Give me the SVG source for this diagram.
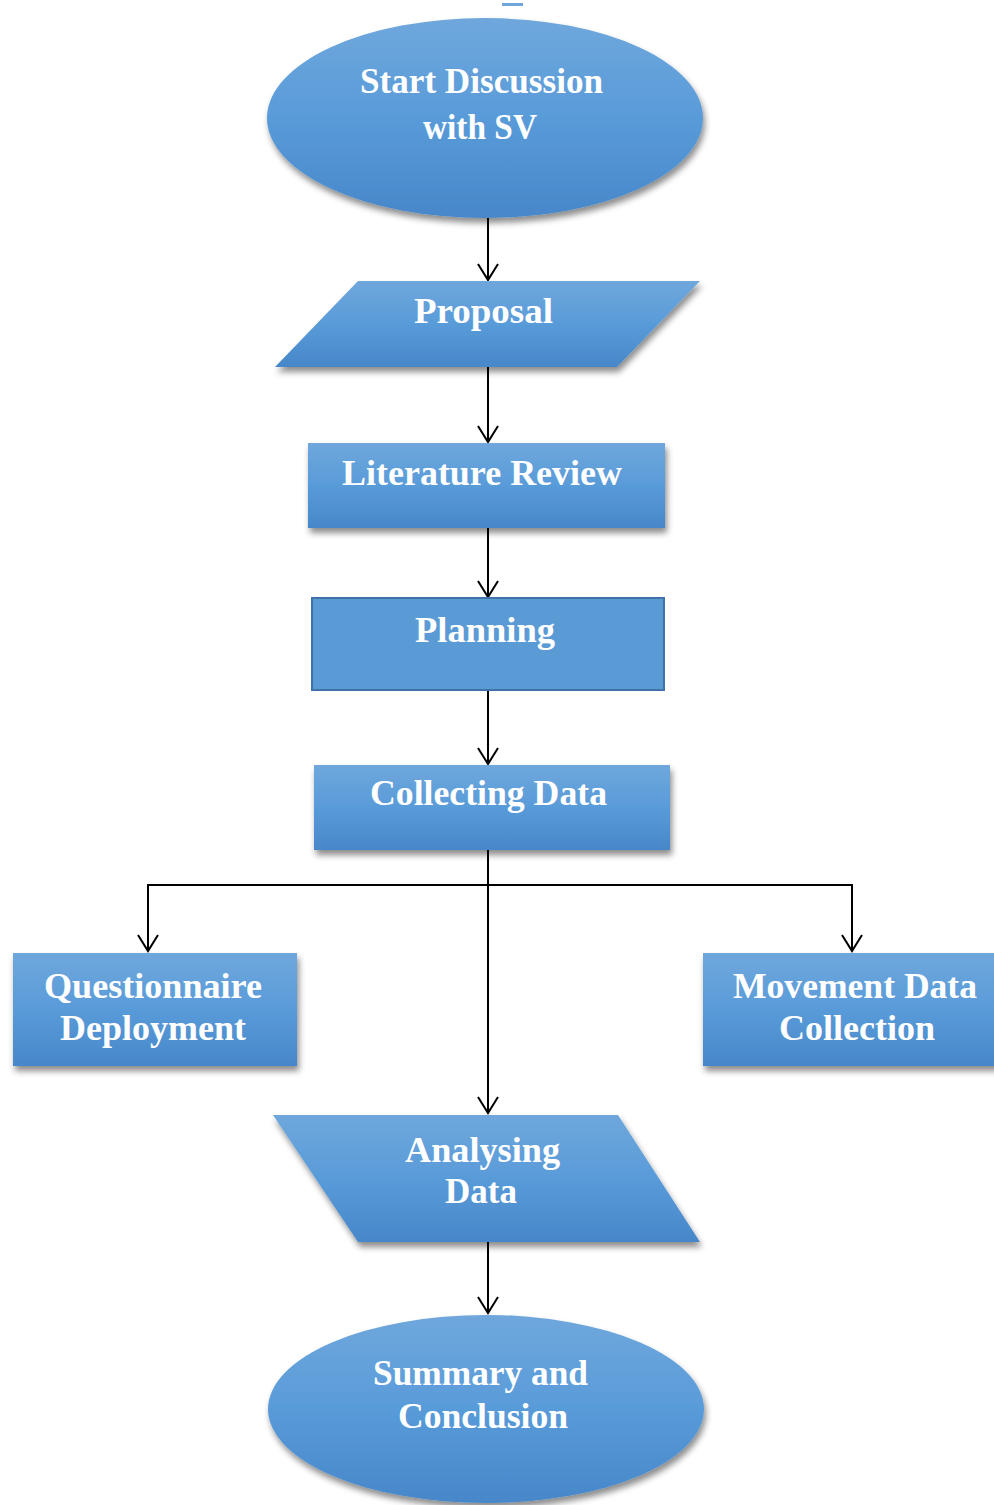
<svg xmlns="http://www.w3.org/2000/svg" width="994" height="1505" viewBox="0 0 994 1505">
<defs>
<linearGradient id="g" x1="0" y1="0" x2="0" y2="1">
<stop offset="0" stop-color="#6fa7dc"/>
<stop offset="0.5" stop-color="#599bd9"/>
<stop offset="1" stop-color="#4787c9"/>
</linearGradient>
<filter id="sh" x="-10%" y="-10%" width="125%" height="130%">
<feDropShadow dx="2" dy="5" stdDeviation="3" flood-color="#000" flood-opacity="0.45"/>
</filter>
<marker id="ah" markerWidth="24" markerHeight="24" refX="21" refY="12" orient="auto" markerUnits="userSpaceOnUse" viewBox="0 0 24 24">
<path d="M5 2 L21 12 L5 22" fill="none" stroke="#000" stroke-width="2"/>
</marker>
</defs>
<style>
.n{fill:url(#g);filter:url(#sh)}
.p{fill:#5b9bd5;stroke:#3f72a8;stroke-width:2}
.t{font-family:"Liberation Serif","Times New Roman",serif;font-weight:bold;font-size:36px;fill:#fff;text-anchor:start}
.c{fill:none;stroke:#000;stroke-width:2}
</style>
<rect x="502" y="3" width="21" height="3" fill="#6fa7dc"/>
<g id="connectors">
<line class="c" x1="488" y1="218" x2="488" y2="280" marker-end="url(#ah)"/>
<line class="c" x1="488" y1="367" x2="488" y2="442" marker-end="url(#ah)"/>
<line class="c" x1="488" y1="528" x2="488" y2="597" marker-end="url(#ah)"/>
<line class="c" x1="488" y1="690" x2="488" y2="764" marker-end="url(#ah)"/>
<line class="c" x1="488" y1="850" x2="488" y2="1113" marker-end="url(#ah)"/>
<path class="c" d="M488 885 H148 V951" marker-end="url(#ah)"/>
<path class="c" d="M488 885 H852 V951" marker-end="url(#ah)"/>
<line class="c" x1="488" y1="1242" x2="488" y2="1313" marker-end="url(#ah)"/>
</g>
<g id="start">
<ellipse class="n" cx="485" cy="118" rx="218" ry="100"/>
<text class="t" x="360" y="93" textLength="243" lengthAdjust="spacingAndGlyphs">Start Discussion</text>
<text class="t" x="423" y="139" textLength="114" lengthAdjust="spacingAndGlyphs">with SV</text>
</g>
<g id="proposal">
<polygon class="n" points="358,281 700,281 617,367 275,367"/>
<text class="t" x="414" y="323" textLength="139" lengthAdjust="spacingAndGlyphs">Proposal</text>
</g>
<g id="literature">
<rect class="n" x="308" y="443" width="357" height="85"/>
<text class="t" x="342" y="485" textLength="280" lengthAdjust="spacingAndGlyphs">Literature Review</text>
</g>
<g id="planning">
<rect class="p" x="312" y="598" width="352" height="92"/>
<text class="t" x="415" y="642" textLength="140" lengthAdjust="spacingAndGlyphs">Planning</text>
</g>
<g id="collecting">
<rect class="n" x="314" y="765" width="356" height="85"/>
<text class="t" x="370" y="805" textLength="237" lengthAdjust="spacingAndGlyphs">Collecting Data</text>
</g>
<g id="questionnaire">
<rect class="n" x="13" y="953" width="284" height="113"/>
<text class="t" x="44" y="998" textLength="218" lengthAdjust="spacingAndGlyphs">Questionnaire</text>
<text class="t" x="60" y="1040" textLength="186" lengthAdjust="spacingAndGlyphs">Deployment</text>
</g>
<g id="movement">
<rect class="n" x="703" y="953" width="295" height="113"/>
<text class="t" x="733" y="998" textLength="244" lengthAdjust="spacingAndGlyphs">Movement Data</text>
<text class="t" x="779" y="1040" textLength="156" lengthAdjust="spacingAndGlyphs">Collection</text>
</g>
<g id="analysing">
<polygon class="n" points="273,1115 618,1115 700,1242 358,1242"/>
<text class="t" x="405" y="1162" textLength="155" lengthAdjust="spacingAndGlyphs">Analysing</text>
<text class="t" x="445" y="1203" textLength="72" lengthAdjust="spacingAndGlyphs">Data</text>
</g>
<g id="summary">
<ellipse class="n" cx="486" cy="1409" rx="218" ry="94"/>
<text class="t" x="373" y="1385" textLength="215" lengthAdjust="spacingAndGlyphs">Summary and</text>
<text class="t" x="398" y="1428" textLength="170" lengthAdjust="spacingAndGlyphs">Conclusion</text>
</g>
</svg>
